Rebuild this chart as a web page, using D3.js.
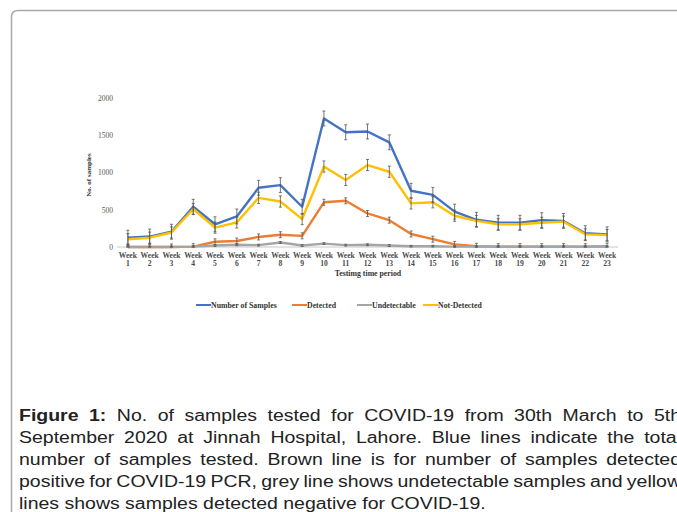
<!DOCTYPE html>
<html>
<head>
<meta charset="utf-8">
<script src="https://cdn.jsdelivr.net/npm/d3@7"></script>
<style>
  body { margin: 0; background: #fff; overflow: hidden; }
  svg { display: block; }
</style>
</head>
<body>
<div id="chart"></div>
<script>
// week numbers on the category axis
var weekNums = [1,2,3,4,5,6,7,8,9,10,11,12,13,14,15,16,17,18,19,20,21,22,23];

// series values
var samples      = [125,140,205,540,305,410,795,830,540,1725,1540,1550,1405,755,700,475,365,325,325,360,350,185,170];
var detected     = [0,0,0,5,70,80,135,165,150,600,620,450,360,175,105,35,10,5,5,5,5,5,10];
var undetectable = [0,0,0,5,20,30,25,60,20,45,25,30,20,10,10,5,5,5,5,5,5,5,5];
var notDetected  = [105,125,195,510,260,330,660,610,375,1080,900,1100,1010,585,600,420,350,305,305,325,340,170,160];

// one error size per series (excel style)
var errSamples = 100, errDetected = 40, errUndetectable = 12, errNotDetected = 75;

var yTicks = [0,500,1000,1500,2000];

var captionLines = [
  "No. of samples tested for COVID-19 from 30th March to 5th",
  "September 2020 at Jinnah Hospital, Lahore. Blue lines indicate the total",
  "number of samples tested. Brown line is for number of samples detected",
  "positive for COVID-19 PCR, grey line shows undetectable samples and yellow",
  "lines shows samples detected negative for COVID-19."
];

var series = [
  {name: "Number of Samples", values: samples, err: errSamples, color: "#4472c4"},
  {name: "Detected", values: detected, err: errDetected, color: "#ed7d31"},
  {name: "Undetectable", values: undetectable, err: errUndetectable, color: "#a5a5a5"},
  {name: "Not-Detected", values: notDetected, err: errNotDetected, color: "#ffc000"}
];

var W = 677, H = 512;
var svg = d3.select("#chart").append("svg")
  .attr("width", W).attr("height", H);

// panel frame (rounded top-left corner, runs off the right and bottom)
svg.append("path")
  .attr("d", "M11.5,512 V17 Q11.5,10.5 18,10.5 H677")
  .attr("fill", "none")
  .attr("stroke", "#a9a9a9")
  .attr("stroke-width", 1.5);

// scales
var x = d3.scaleBand()
  .domain(weekNums)
  .range([117, 618]);
var cx = function(w){ return x(w) + x.bandwidth()/2; };

var y = d3.scaleLinear()
  .domain([0, 2000])
  .range([247, 98]);

var serif = "'Liberation Serif','Times New Roman',serif";

// y tick labels (no axis line)
var yAxis = svg.append("g")
  .attr("transform", "translate(113,0)")
  .call(d3.axisLeft(y).tickValues(yTicks).tickFormat(d3.format("d")).tickSize(0).tickPadding(0));
yAxis.select(".domain").remove();
yAxis.selectAll("text")
  .attr("font-family", serif)
  .attr("font-size", 7.5)
  .attr("fill", "#555");

// x axis line
svg.append("line")
  .attr("x1", 117).attr("x2", 618)
  .attr("y1", y(0)).attr("y2", y(0))
  .attr("stroke", "#c8c8c8")
  .attr("stroke-width", 1);

// category labels: "Week" / number
var xl = svg.append("g").selectAll("text")
  .data(weekNums)
  .enter().append("text")
  .attr("text-anchor", "middle")
  .attr("font-family", serif)
  .attr("font-size", 7.6)
  .attr("font-weight", "bold")
  .attr("fill", "#4a4a4a");
xl.append("tspan")
  .attr("x", function(d){ return cx(d); })
  .attr("y", 257.5)
  .text("Week");
xl.append("tspan")
  .attr("x", function(d){ return cx(d); })
  .attr("y", 265.5)
  .text(function(d){ return d; });

// axis titles
svg.append("text")
  .attr("x", 368).attr("y", 275.5)
  .attr("text-anchor", "middle")
  .attr("font-family", serif)
  .attr("font-size", 7.8)
  .attr("font-weight", "bold")
  .attr("fill", "#333")
  .text("Testimg time period");

svg.append("text")
  .attr("transform", "translate(91,175) rotate(-90)")
  .attr("text-anchor", "middle")
  .attr("font-family", serif)
  .attr("font-size", 7)
  .attr("font-weight", "bold")
  .attr("fill", "#333")
  .text("No. of samples");

// lines
var line = d3.line()
  .x(function(d, i){ return cx(weekNums[i]); })
  .y(function(d){ return y(d); });

series.forEach(function(s){
  svg.append("path")
    .datum(s.values)
    .attr("d", line)
    .attr("fill", "none")
    .attr("stroke", s.color)
    .attr("stroke-width", 2.4)
    .attr("stroke-linejoin", "round");
});

// error bars on top
series.forEach(function(s){
  var g = svg.append("g")
    .attr("stroke", "#555")
    .attr("stroke-width", 0.8);
  s.values.forEach(function(v, i){
    var px = cx(weekNums[i]);
    var top = y(v + s.err), bot = y(Math.max(0, v - s.err));
    g.append("line").attr("x1", px).attr("x2", px).attr("y1", top).attr("y2", bot);
    g.append("line").attr("x1", px - 1.5).attr("x2", px + 1.5).attr("y1", top).attr("y2", top);
    g.append("line").attr("x1", px - 1.5).attr("x2", px + 1.5).attr("y1", bot).attr("y2", bot);
  });
});

// legend
var legendX = [196, 292, 357, 423];
var lg = svg.append("g").selectAll("g")
  .data(series)
  .enter().append("g")
  .attr("transform", function(d, i){ return "translate(" + legendX[i] + ",305)"; });
lg.append("line")
  .attr("x1", 0).attr("x2", 15)
  .attr("stroke", function(d){ return d.color; })
  .attr("stroke-width", 2);
lg.append("text")
  .attr("x", 15).attr("y", 2.5)
  .attr("font-family", serif)
  .attr("font-size", 7.8)
  .attr("font-weight", "bold")
  .attr("fill", "#333")
  .text(function(d){ return d.name; });

// caption, justified lines (source image is stretched horizontally)
var baselines = [420.5, 442.5, 464.5, 486.5, 508.5];
var capW = 662;
captionLines.forEach(function(txt, i){
  var t = svg.append("text")
    .attr("transform", "translate(19," + baselines[i] + ") scale(1,0.8)")
    .attr("font-family", "'Liberation Sans',Arial,sans-serif")
    .attr("font-size", 19.5)
    .attr("fill", "#222");
  if (i == 0) {
    t.append("tspan").attr("font-weight", "bold").text("Figure 1:");
    t.append("tspan").text(" " + txt);
  } else {
    t.text(txt);
  }
  if (i < captionLines.length - 1) {
    var nat = t.node().getComputedTextLength();
    var gaps = (i == 0 ? ("Figure 1: " + txt) : txt).split(" ").length - 1;
    t.attr("word-spacing", (capW - nat) / gaps);
  }
});
</script>
</body>
</html>
